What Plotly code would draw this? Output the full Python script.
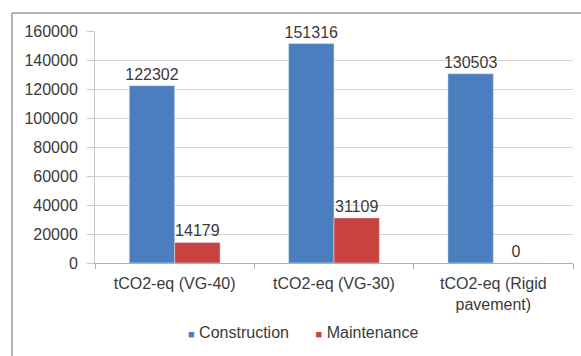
import plotly.graph_objects as go

categories = ["tCO2-eq (VG-40)", "tCO2-eq (VG-30)", "tCO2-eq (Rigid<br>pavement)"]
construction = [122302, 151316, 130503]
maintenance = [14179, 31109, 0]
y_ticks = [0, 20000, 40000, 60000, 80000, 100000, 120000, 140000, 160000]
series_names = ["Construction", "Maintenance"]

BLUE = "#4a7ebf"
RED = "#c8423f"
TEXT = "#3a3a3a"
FONT = "Liberation Sans, Arial, sans-serif"

W, H = 581, 356
ML, MR, MT, MB = 95, 8, 31, 93
pw, ph = W - ML - MR, H - MT - MB

fig = go.Figure()
for name, vals, col in zip(series_names, [construction, maintenance], [BLUE, RED]):
    fig.add_trace(go.Bar(
        name=name, x=categories, y=vals, marker_color=col,
        text=[str(v) for v in vals], textposition="outside", constraintext="none",
        textfont=dict(size=16, color=TEXT, family=FONT), cliponaxis=False,
        showlegend=False,
    ))

# legend drawn as a single centred line of coloured squares and names
legend_text = (
    f"<span style='color:{BLUE};font-size:11px'>■</span> Construction"
    f"      <span style='color:{RED};font-size:11px'>■</span> Maintenance"
)
fig.add_annotation(xref="paper", yref="paper", x=(303 - ML) / pw, y=-(332 - (MT + ph)) / ph,
                   xanchor="center", yanchor="middle", showarrow=False,
                   text=legend_text, font=dict(size=16, color=TEXT, family=FONT))

# frame lines (top and left) around the chart area
x_left = (12 - ML) / pw
y_top = 1 + (MT - 13) / ph
fig.add_shape(type="line", xref="paper", yref="paper", x0=x_left, x1=1.05,
              y0=y_top, y1=y_top, line=dict(color="#9a9a9a", width=1.5))
fig.add_shape(type="line", xref="paper", yref="paper", x0=x_left, x1=x_left,
              y0=y_top, y1=-1, line=dict(color="#9a9a9a", width=1.5))

fig.update_layout(
    width=W, height=H,
    margin=dict(l=ML, r=MR, t=MT, b=MB),
    paper_bgcolor="white", plot_bgcolor="white",
    barmode="group", bargap=0.43, bargroupgap=0,
    font=dict(family=FONT, size=16, color=TEXT),
    xaxis=dict(
        showline=True, linecolor="#b0b0b0", linewidth=1,
        ticks="outside", tickson="boundaries", ticklen=5, tickcolor="#b0b0b0",
        tickfont=dict(size=16, color=TEXT), showgrid=False, ticklabelstandoff=6,
    ),
    yaxis=dict(
        range=[0, 160000], tickvals=y_ticks, ticktext=[str(v) for v in y_ticks],
        showgrid=True, gridcolor="#d4d4d4", gridwidth=1,
        showline=True, linecolor="#c8c8c8", ticks="outside", ticklen=7, tickcolor="#c8c8c8",
        tickfont=dict(size=16, color=TEXT), zeroline=False, ticklabelstandoff=6,
    ),
)

fig.write_html("out.html")
